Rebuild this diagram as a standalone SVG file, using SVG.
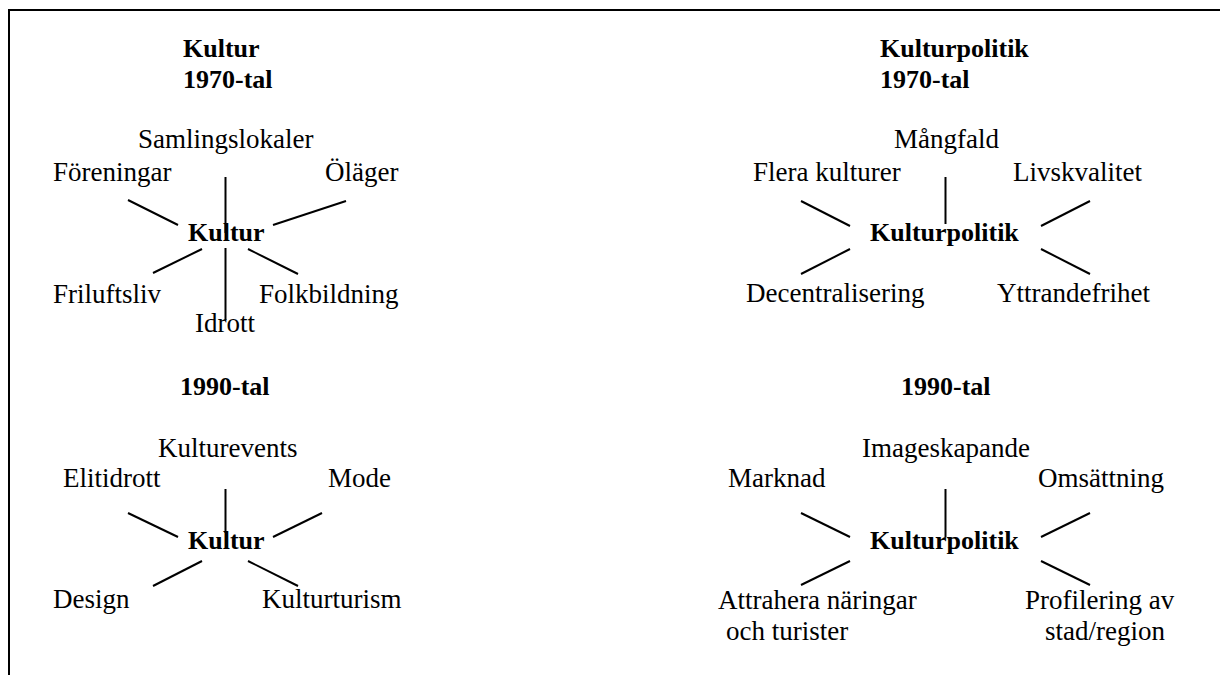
<svg xmlns="http://www.w3.org/2000/svg" width="1220" height="675" viewBox="0 0 1220 675">
<style>
text { font-family: "Liberation Serif", "Times New Roman", serif; fill: #000; }
.r { font-size: 27px; }
.b { font-size: 26px; font-weight: bold; }
.c line { stroke: #000; stroke-width: 2; }
.frame { stroke: #000; stroke-width: 2; fill: none; }
</style>
<rect width="1220" height="675" fill="#fff"/>
<polyline class="frame" points="9,675 9,10 1220,10"/>

<g id="titles">
<text class="b" x="183" y="57">Kultur</text>
<text class="b" x="183" y="88">1970-tal</text>
<text class="b" x="880" y="57">Kulturpolitik</text>
<text class="b" x="880" y="88">1970-tal</text>
<text class="b" x="180" y="395">1990-tal</text>
<text class="b" x="901" y="395">1990-tal</text>
</g>

<g id="connectors" class="c">
<!-- Kultur 1970 -->
<line x1="225.5" y1="177" x2="225.5" y2="233"/>
<line x1="225.5" y1="248" x2="225.5" y2="320"/>
<line x1="128" y1="200" x2="178" y2="225"/>
<line x1="273" y1="225" x2="346" y2="201"/>
<line x1="153" y1="273" x2="202" y2="249"/>
<line x1="248" y1="249" x2="298" y2="274"/>
<!-- Kulturpolitik 1970 -->
<line x1="945.5" y1="177" x2="945.5" y2="224"/>
<line x1="801" y1="201" x2="850" y2="226"/>
<line x1="1041" y1="226" x2="1090" y2="201"/>
<line x1="801" y1="274" x2="850" y2="249"/>
<line x1="1041" y1="249" x2="1090" y2="274"/>
<!-- Kultur 1990 -->
<line x1="225.5" y1="489" x2="225.5" y2="533"/>
<line x1="128" y1="513" x2="178" y2="537"/>
<line x1="273" y1="537" x2="322" y2="513"/>
<line x1="153" y1="586" x2="202" y2="561"/>
<line x1="248" y1="561" x2="298" y2="586"/>
<!-- Kulturpolitik 1990 -->
<line x1="945.5" y1="489" x2="945.5" y2="537"/>
<line x1="801" y1="513" x2="850" y2="537"/>
<line x1="1041" y1="537" x2="1090" y2="513"/>
<line x1="801" y1="585" x2="850" y2="561"/>
<line x1="1041" y1="561" x2="1090" y2="585"/>
</g>

<g id="kultur1970">
<text class="b" x="188" y="241">Kultur</text>
</g>
<g id="samlingslokaler"><text class="r" x="138" y="148">Samlingslokaler</text></g>
<g id="foreningar"><text class="r" x="53" y="181">Föreningar</text></g>
<g id="olager"><text class="r" x="325" y="181">Öläger</text></g>
<g id="friluftsliv"><text class="r" x="53" y="303">Friluftsliv</text></g>
<g id="folkbildning"><text class="r" x="259" y="303">Folkbildning</text></g>
<g id="idrott"><text class="r" x="195" y="332">Idrott</text></g>

<g id="kulturpolitik1970">
<text class="b" x="870" y="241">Kulturpolitik</text>
</g>
<g id="mangfald"><text class="r" x="894" y="148">Mångfald</text></g>
<g id="flera"><text class="r" x="753" y="181">Flera kulturer</text></g>
<g id="livskvalitet"><text class="r" x="1013" y="181">Livskvalitet</text></g>
<g id="decentralisering"><text class="r" x="746" y="302">Decentralisering</text></g>
<g id="yttrandefrihet"><text class="r" x="997" y="302">Yttrandefrihet</text></g>

<g id="kultur1990">
<text class="b" x="188" y="549">Kultur</text>
</g>
<g id="kulturevents"><text class="r" x="158" y="457">Kulturevents</text></g>
<g id="elitidrott"><text class="r" x="63" y="487">Elitidrott</text></g>
<g id="mode"><text class="r" x="328" y="487">Mode</text></g>
<g id="design"><text class="r" x="53" y="608">Design</text></g>
<g id="kulturturism"><text class="r" x="262" y="608">Kulturturism</text></g>

<g id="kulturpolitik1990">
<text class="b" x="870" y="549">Kulturpolitik</text>
</g>
<g id="imageskapande"><text class="r" x="862" y="457">Imageskapande</text></g>
<g id="marknad"><text class="r" x="728" y="487">Marknad</text></g>
<g id="omsattning"><text class="r" x="1038" y="487">Omsättning</text></g>
<g id="attrahera">
<text class="r" x="718" y="609">Attrahera näringar</text>
<text class="r" x="726" y="640">och turister</text>
</g>
<g id="profilering">
<text class="r" x="1025" y="609">Profilering av</text>
<text class="r" x="1045" y="640">stad/region</text>
</g>
</svg>
